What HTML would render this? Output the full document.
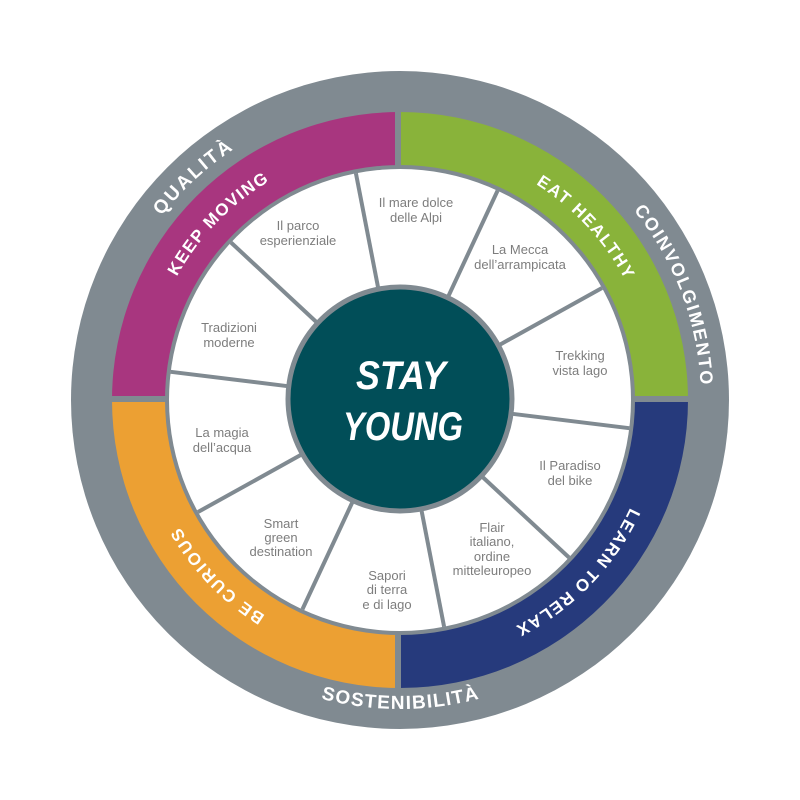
<!DOCTYPE html>
<html><head><meta charset="utf-8"><style>
html,body{margin:0;padding:0;background:#fff;width:800px;height:800px;overflow:hidden}
svg{display:block}
.seg{font-family:"Liberation Sans",sans-serif;font-size:13px;fill:#7d7d7d;text-anchor:middle}
.arc{font-family:"Liberation Sans",sans-serif;font-weight:bold;fill:#fff}
</style></head><body>
<svg width="800" height="800" viewBox="0 0 800 800" xmlns="http://www.w3.org/2000/svg">
<defs>
<path id="pQ" d="M106.7 467.7 A301 301 0 0 1 488 112.2"/>
<path id="pK" d="M154.9 470.3 A255 255 0 0 1 461.7 152.6"/>
<path id="pE" d="M342.6 151.5 A255 255 0 0 1 643.9 474.6"/>
<path id="pC" d="M447.1 102.7 A301 301 0 0 1 633.9 589.4"/>
<path id="pL" d="M644.2 330 A254 254 0 0 1 338.6 646.5"/>
<path id="pB" d="M461.4 646.5 A254 254 0 0 1 155.8 330"/>
<path id="pS" d="M132.4 554.5 A309 309 0 0 0 667.6 554.5"/>
</defs>
<circle cx="400" cy="400" r="329" fill="#808a91"/>
<path d="M112 400 A288 288 0 0 1 400 112 L400 165 A235 235 0 0 0 165 400 Z" fill="#a8367f"/>
<path d="M400 112 A288 288 0 0 1 688 400 L635 400 A235 235 0 0 0 400 165 Z" fill="#89b33a"/>
<path d="M688 400 A288 288 0 0 1 400 688 L400 635 A235 235 0 0 0 635 400 Z" fill="#263a7c"/>
<path d="M400 688 A288 288 0 0 1 112 400 L165 400 A235 235 0 0 0 400 635 Z" fill="#eca033"/>
<g stroke="#808a91" stroke-width="6">
<line x1="398" y1="100" x2="398" y2="240"/>
<line x1="398" y1="560" x2="398" y2="700"/>
<line x1="100" y1="399" x2="240" y2="399"/>
<line x1="560" y1="399" x2="700" y2="399"/>
</g>
<circle cx="400" cy="400" r="231" fill="#fff"/>
<g stroke="#808a91" stroke-width="4">
<line x1="355.9" y1="173.3" x2="378.6" y2="290.1"/>
<line x1="497.6" y1="190.6" x2="447.3" y2="298.5"/>
<line x1="602" y1="288" x2="498" y2="345.7"/>
<line x1="629.3" y1="428.2" x2="511.2" y2="413.7"/>
<line x1="569" y1="557.5" x2="481.9" y2="476.4"/>
<line x1="444.1" y1="626.7" x2="421.4" y2="509.9"/>
<line x1="302.4" y1="609.4" x2="352.7" y2="501.5"/>
<line x1="198" y1="512" x2="302" y2="454.3"/>
<line x1="170.7" y1="371.8" x2="288.8" y2="386.3"/>
<line x1="231" y1="242.5" x2="318.1" y2="323.6"/>
</g>
<circle cx="400" cy="399" r="112" fill="#014e58" stroke="#808a91" stroke-width="5"/>
<text x="401" y="389" text-anchor="middle" font-family="Liberation Sans,sans-serif" font-weight="bold" font-style="italic" font-size="40" fill="#fff" textLength="90" lengthAdjust="spacingAndGlyphs">STAY</text>
<text x="403" y="440" text-anchor="middle" font-family="Liberation Sans,sans-serif" font-weight="bold" font-style="italic" font-size="40" fill="#fff" textLength="120" lengthAdjust="spacingAndGlyphs">YOUNG</text>

<text class="seg"><tspan x="416" y="207">Il mare dolce</tspan><tspan x="416" y="222">delle Alpi</tspan></text>
<text class="seg"><tspan x="520" y="254">La Mecca</tspan><tspan x="520" y="269">dell’arrampicata</tspan></text>
<text class="seg"><tspan x="580" y="360">Trekking</tspan><tspan x="580" y="375">vista lago</tspan></text>
<text class="seg"><tspan x="570" y="470">Il Paradiso</tspan><tspan x="570" y="485">del bike</tspan></text>
<text class="seg"><tspan x="492" y="532">Flair</tspan><tspan x="492" y="546">italiano,</tspan><tspan x="492" y="561">ordine</tspan><tspan x="492" y="575">mitteleuropeo</tspan></text>
<text class="seg"><tspan x="387" y="580">Sapori</tspan><tspan x="387" y="594">di terra</tspan><tspan x="387" y="609">e di lago</tspan></text>
<text class="seg"><tspan x="281" y="528">Smart</tspan><tspan x="281" y="542">green</tspan><tspan x="281" y="556">destination</tspan></text>
<text class="seg"><tspan x="222" y="437">La magia</tspan><tspan x="222" y="452">dell’acqua</tspan></text>
<text class="seg"><tspan x="229" y="332">Tradizioni</tspan><tspan x="229" y="347">moderne</tspan></text>
<text class="seg"><tspan x="298" y="230">Il parco</tspan><tspan x="298" y="245">esperienziale</tspan></text>

<text class="arc" font-size="19"><textPath href="#pQ" startOffset="50%" text-anchor="middle" textLength="98">QUALITÀ</textPath></text>
<text class="arc" font-size="17"><textPath href="#pK" startOffset="50%" text-anchor="middle" textLength="134">KEEP MOVING</textPath></text>
<text class="arc" font-size="17"><textPath href="#pE" startOffset="50%" text-anchor="middle" textLength="132">EAT HEALTHY</textPath></text>
<text class="arc" font-size="18"><textPath href="#pC" startOffset="50%" text-anchor="middle" textLength="190">COINVOLGIMENTO</textPath></text>
<text class="arc" font-size="17"><textPath href="#pL" startOffset="50%" text-anchor="middle" textLength="168">LEARN TO RELAX</textPath></text>
<text class="arc" font-size="17"><textPath href="#pB" startOffset="50%" text-anchor="middle" textLength="124">BE CURIOUS</textPath></text>
<text class="arc" font-size="19"><textPath href="#pS" startOffset="50%" text-anchor="middle" textLength="160">SOSTENIBILITÀ</textPath></text>
</svg>
</body></html>
